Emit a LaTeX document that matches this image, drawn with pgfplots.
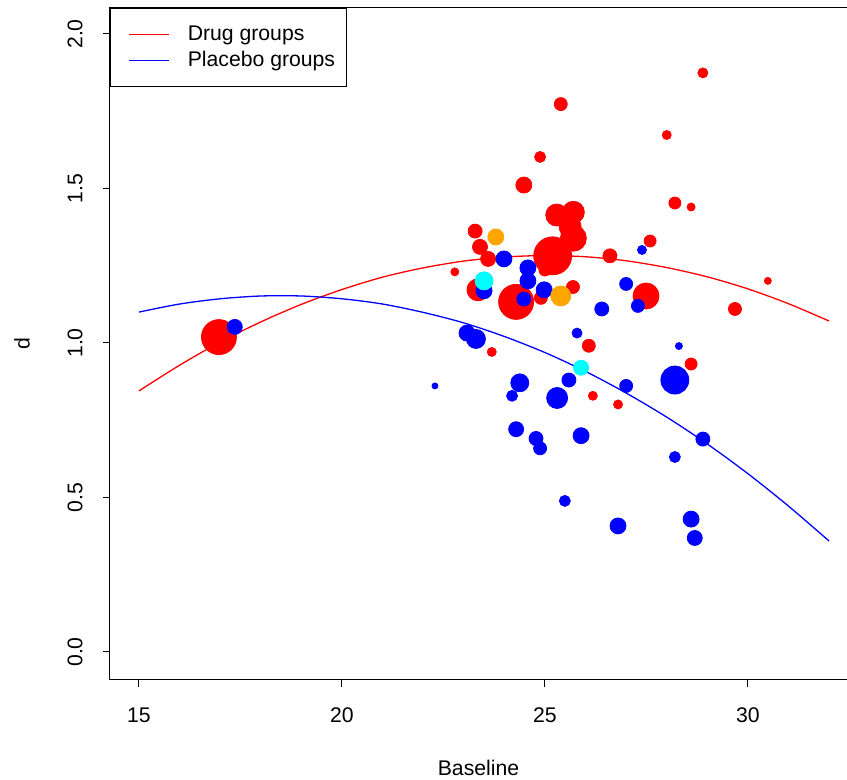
\documentclass[border=0pt]{standalone}
\usepackage{pgfplots}
\pgfplotsset{compat=1.18}
\usepackage{pgfplotstable}
\usepackage{fontspec}
\setmainfont{Liberation Sans}
\definecolor{rred}{RGB}{255,0,0}
\definecolor{rblue}{RGB}{0,0,255}
\definecolor{rorange}{RGB}{255,165,0}
\definecolor{rcyan}{RGB}{0,255,255}

\pgfplotstableread{
x y r
16.97 1.019 17.5
22.78 1.230 4
23.28 1.362 7
23.40 1.311 7.5
23.60 1.272 7.5
23.35 1.172 11
23.69 0.971 4.5
24.29 1.133 17.5
24.90 1.146 6.5
24.48 1.511 8
24.88 1.602 5.5
25.39 1.773 6.5
25.29 1.414 11
25.70 1.423 11
25.62 1.376 11
25.70 1.339 13
25.00 1.236 6
25.19 1.282 19
25.69 1.181 6.5
26.60 1.282 7
26.08 0.991 6.5
26.18 0.829 4.5
26.80 0.801 4.5
27.49 1.152 13
27.59 1.330 6
28.00 1.673 4.5
28.20 1.453 6
28.60 1.440 4
28.89 1.874 5
28.60 0.932 6
29.68 1.110 6.5
30.49 1.201 3.5
}\drugdata

\pgfplotstableread{
x y r
17.36 1.052 7.5
22.29 0.861 3
23.08 1.032 8
23.30 1.013 9.5
23.50 1.169 8
23.99 1.272 8
24.58 1.243 8
24.58 1.201 8
24.48 1.142 7
24.98 1.172 8
24.19 0.829 5.5
24.38 0.871 9
24.29 0.721 7.5
24.78 0.691 7
24.88 0.659 6.5
25.30 0.822 10.5
25.59 0.880 7
25.79 1.032 5
25.89 0.700 8
25.49 0.489 5.5
26.40 1.110 7
26.80 0.408 8
27.00 1.191 6.5
27.00 0.861 6.5
27.29 1.120 6.5
27.39 1.301 4.5
28.20 0.880 14
28.30 0.990 3.5
28.89 0.689 7
28.20 0.631 5.5
28.60 0.430 8
28.69 0.369 7.5
}\placebodata

\pgfplotstableread{
x y r
23.79 1.343 8
25.39 1.152 10
}\orangedata

\pgfplotstableread{
x y r
23.50 1.201 9
25.89 0.920 7.5
}\cyandata

\pgfplotstableread{
x y
15 0.845
16 0.928
17 1.003
18 1.068
19 1.125
20 1.173
21 1.213
22 1.243
23 1.265
24 1.278
25 1.283
26 1.279
27 1.266
28 1.244
29 1.214
30 1.175
31 1.127
32 1.071
}\drugfit

\pgfplotstableread{
x y
15 1.100
16 1.126
17 1.143
18 1.152
19 1.152
20 1.143
21 1.126
22 1.099
23 1.065
24 1.021
25 0.969
26 0.908
27 0.838
28 0.760
29 0.673
30 0.577
31 0.472
32 0.359
}\placebofit

\pgfplotsset{
  bubble/.style={
    only marks, scatter, mark=*,
    scatter/use mapped color={draw=#1, fill=#1},
    visualization depends on={0.5*\thisrow{r} \as \rad},
    scatter/@pre marker code/.append style={/tikz/mark size=\rad},
    forget plot,
  },
}

\begin{document}
\fontsize{10.6}{12.7}\selectfont
\begin{tikzpicture}
\begin{axis}[
  name=ax,
  scale only axis,
  width=368.5pt, height=336pt,
  xmin=14.286, xmax=32.44,
  ymin=-0.0906, ymax=2.084,
  axis line style={line width=0.5pt},
  tick style={line width=0.5pt, black},
  tick align=outside,
  major tick length=3.5pt,
  xtick pos=bottom, ytick pos=left,
  xtick={15,20,25,30},
  ytick={0,0.5,1,1.5,2},
  /pgf/number format/assume math mode=true,
  yticklabel={\pgfmathprintnumber[fixed,fixed zerofill,precision=1]{\tick}},
  xticklabel style={font=\fontsize{10.6}{12.7}\selectfont},
  yticklabel style={rotate=90, anchor=south, font=\fontsize{10.6}{12.7}\selectfont},
  xticklabel shift=6.5pt,
  yticklabel shift=6.5pt,
  every axis x label/.style={at={(axis description cs:0.5,0)}, yshift=-44pt, anchor=center},
  every axis y label/.style={at={(axis description cs:0,0.5)}, xshift=-44pt, rotate=90, anchor=center},
  xlabel={Baseline}, ylabel={d},
  label style={font=\fontsize{10.6}{12.7}\selectfont},
  legend style={at={(0,1)}, anchor=north west, draw=black, line width=0.5pt,
    inner xsep=0pt, inner ysep=6.5pt, row sep=0pt,
    nodes={inner sep=0pt}, font=\fontsize{10.6}{12.7}\selectfont},
  legend cell align=left,
  legend image code/.code={\path[draw=none,fill=none] (0pt,-6.5pt) rectangle (38.65pt,6.5pt); \draw[#1] (9.25pt,0pt) -- (29.25pt,0pt);},
]
\addplot[rred, line width=0.65pt, smooth] table {\drugfit};
\addlegendentry{Drug groups}
\addplot[rblue, line width=0.65pt, smooth] table {\placebofit};
\addlegendentry{Placebo groups\rule{5.5pt}{0pt}}
\addplot[bubble=rred] table {\drugdata};
\addplot[bubble=rblue] table {\placebodata};
\addplot[bubble=rorange] table {\orangedata};
\addplot[bubble=rcyan] table {\cyandata};
\end{axis}
\pgfresetboundingbox
\path[use as bounding box] (ax.south west) ++(-55pt,-50pt) rectangle ++(423.5pt,390pt);
\end{tikzpicture}
\end{document}
